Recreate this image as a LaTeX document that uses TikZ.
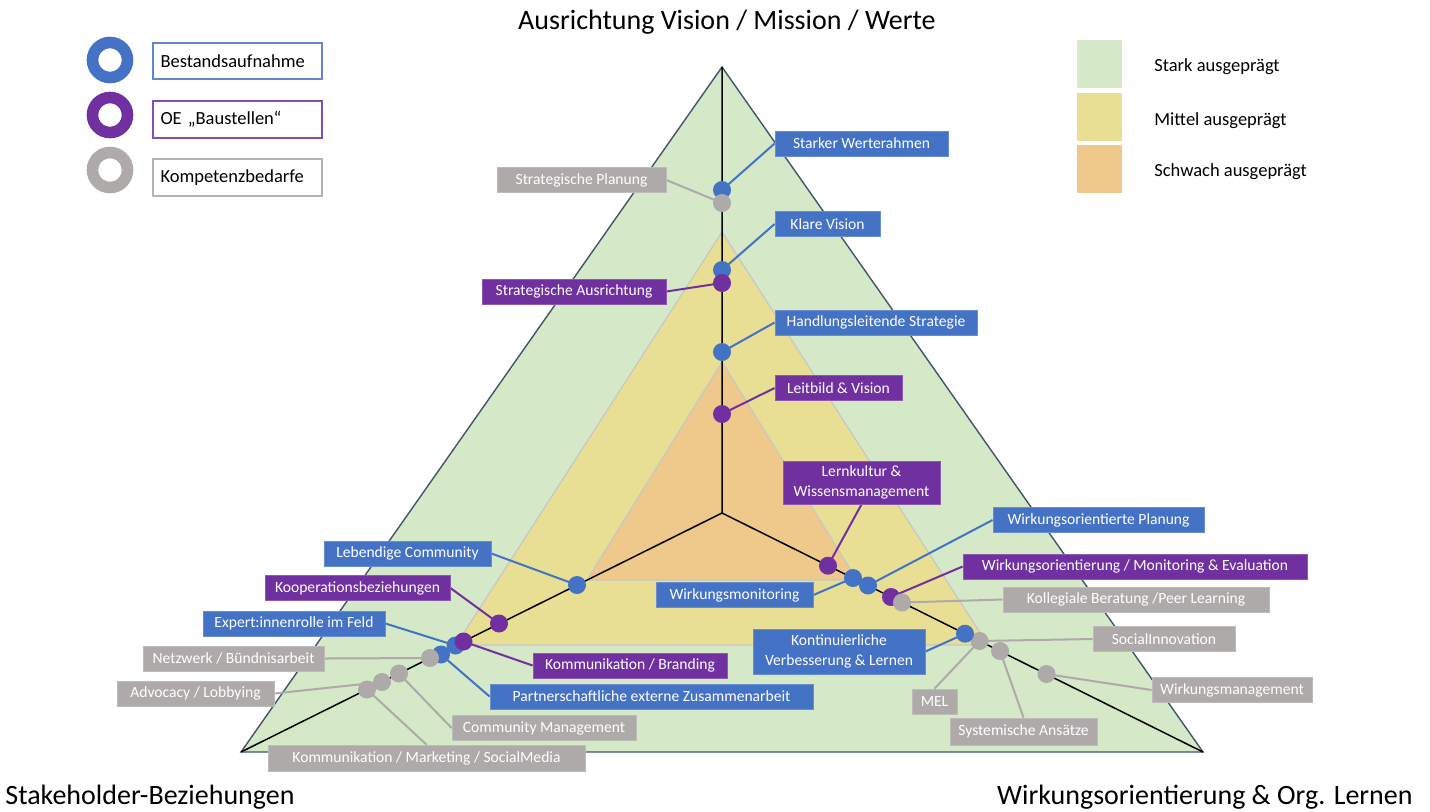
\documentclass[tikz,border=0pt]{standalone}
\usepackage{fontspec}
\setmainfont{Carlito}
\definecolor{cblue}{HTML}{4472C4}
\definecolor{cpurple}{HTML}{7030A0}
\definecolor{cgray}{HTML}{AEAAAA}
\definecolor{cgreen}{HTML}{D5E8C8}
\definecolor{cyellow}{HTML}{E8DF94}
\definecolor{corange}{HTML}{EFC88C}
\definecolor{cedge}{HTML}{44546A}
\pgfdeclarelayer{back}
\pgfdeclarelayer{mid}
\pgfsetlayers{back,mid,main}
\begin{document}
\begin{tikzpicture}[x=0.5pt,y=-0.5pt,
  lab/.style={font=\fontsize{7.8}{9.8}\selectfont, text=white, inner sep=0pt,
              minimum height=12.5pt, align=center, line width=0.4pt},
  bbox/.style={lab, fill=cblue, draw=cblue!80!white},
  pbox/.style={lab, fill=cpurple, draw=cpurple!80!white},
  gbox/.style={lab, fill=cgray, draw=cgray!80!white},
  dot/.style={circle, inner sep=0pt, minimum size=9pt},
  bdot/.style={dot, fill=cblue},
  pdot/.style={dot, fill=cpurple},
  gdot/.style={dot, fill=cgray},
  bline/.style={cblue, line width=1pt},
  pline/.style={cpurple, line width=1pt},
  gline/.style={cgray, line width=1pt},
  legbox/.style={fill=white, line width=0.8pt, minimum width=84.5pt, minimum height=18.25pt,
                 inner sep=3.5pt, text width=77pt, align=left, font=\fontsize{9.25}{11}\selectfont},
  legtxt/.style={anchor=west, inner sep=0pt, font=\fontsize{9.25}{11}\selectfont},
  ring/.style={line width=5.8pt},
  swatch/.style={inner sep=0pt, minimum width=22.5pt, minimum height=24pt},
  axistitle/.style={inner sep=0pt, font=\fontsize{14}{16}\selectfont}
]
\useasboundingbox (0,0) rectangle (1430,811);

% ---------- triangles and spokes ----------
\begin{pgfonlayer}{back}
  \coordinate (O) at (722,513);
  \coordinate (TA) at (722,67);
  \coordinate (TL) at (241,752);
  \coordinate (TR) at (1203,752);
  \fill[cgreen] (TA) -- (TL) -- (TR) -- cycle;
  \filldraw[fill=cyellow, draw=black!22, line width=0.6pt] (722,232) -- (456,645) -- (988,645) -- cycle;
  \filldraw[fill=corange, draw=black!22, line width=0.6pt] (722,362) -- (587,580) -- (857,580) -- cycle;
  \draw[cedge, line width=0.7pt, line join=miter] (TA) -- (TL) -- (TR) -- cycle;
  \draw[black, line width=0.75pt] (O) -- (TA) (O) -- (TL) (O) -- (TR);
\end{pgfonlayer}

% ---------- axis titles ----------
\node[axistitle] (tTop) at (727,22) {Ausrichtung Vision / Mission / Werte};
\node[axistitle, anchor=west] (tLeft) at (5,797) {Stakeholder-Beziehungen};
\node[axistitle, anchor=east] (tRight) at (1413,797) {Wirkungsorientierung \& Org. Lernen};

% ---------- legend: categories ----------
\draw[ring, cblue] (110,60) circle (8.75pt);
\draw[ring, cpurple] (110,115) circle (8.75pt);
\draw[ring, cgray] (110,170) circle (8.75pt);
\node[legbox, draw=cblue!85!white] (lgB) at (237.5,61) {Bestandsaufnahme};
\node[legbox, draw=cpurple!85!white] (lgP) at (237.5,119.5) {OE „Baustellen“};
\node[legbox, draw=cgray!90!white] (lgG) at (237.5,177.5) {Kompetenzbedarfe};

% ---------- legend: levels ----------
\node[swatch, fill=cgreen] (swG) at (1099,63.5) {};
\node[swatch, fill=cyellow] (swY) at (1099,117) {};
\node[swatch, fill=corange] (swO) at (1099,169) {};
\node[legtxt] (ltG) at (1154,67) {Stark ausgeprägt};
\node[legtxt] (ltY) at (1154,121) {Mittel ausgeprägt};
\node[legtxt] (ltO) at (1154,172) {Schwach ausgeprägt};

% ---------- label boxes ----------
% vertical axis
\node[bbox, minimum width=86.5pt] (l1) at (861.5,143.5) {Starker Werterahmen};
\node[bbox, minimum width=52.5pt] (l2) at (827.5,224) {Klare Vision};
\node[bbox, minimum width=101pt] (l3) at (876,322.5) {Handlungsleitende Strategie};
\node[pbox, minimum width=63.5pt] (l4) at (838.5,388) {Leitbild \& Vision};
\node[pbox, minimum width=92pt] (l5) at (574,291.5) {Strategische Ausrichtung};
\node[gbox, minimum width=84.5pt] (l6) at (581.5,180) {Strategische Planung};
% right axis
\node[pbox, minimum width=78.5pt, minimum height=21.5pt] (l7) at (861.5,482.5) {Lernkultur \&\\Wissensmanagement};
\node[bbox, minimum width=105.5pt] (l8) at (1098.5,520) {Wirkungsorientierte Planung};
\node[bbox, minimum width=78.5pt] (l9) at (734.5,595) {Wirkungsmonitoring};
\node[pbox, minimum width=172pt] (l10) at (1135,566.5) {Wirkungsorientierung / Monitoring \& Evaluation};
\node[gbox, minimum width=133pt] (l11) at (1136,599.5) {Kollegiale Beratung /Peer Learning};
\node[bbox, minimum width=86pt, minimum height=22.5pt] (l12) at (839,651.5) {Kontinuierliche\\Verbesserung \& Lernen};
\node[gbox, minimum width=71pt] (l13) at (1164,639) {SocialInnovation};
\node[gbox, minimum width=22.5pt] (l14) at (934.5,701.5) {MEL};
\node[gbox, minimum width=73.5pt, minimum height=13.5pt] (l15) at (1023.5,731.5) {Systemische Ansätze};
\node[gbox, minimum width=80pt] (l16) at (1232,690) {Wirkungsmanagement};
% left axis
\node[bbox, minimum width=83.5pt] (l17) at (407.5,553.5) {Lebendige Community};
\node[pbox, minimum width=92.5pt] (l18) at (357.5,588) {Kooperationsbeziehungen};
\node[bbox, minimum width=91pt] (l19) at (294,623.5) {Expert:innenrolle im Feld};
\node[pbox, minimum width=97pt] (l20) at (630,665.5) {Kommunikation / Branding};
\node[bbox, minimum width=161.5pt] (l21) at (651.5,696.5) {Partnerschaftliche externe Zusammenarbeit};
\node[gbox, minimum width=90.5pt] (l22) at (233.5,658.5) {Netzwerk / Bündnisarbeit};
\node[gbox, minimum width=78.5pt] (l23) at (195.5,693.5) {Advocacy / Lobbying};
\node[gbox, minimum width=92pt] (l24) at (544,728) {Community Management};
\node[gbox, minimum width=158.5pt, minimum height=13pt] (l25) at (426.5,758) {Kommunikation / Marketing / SocialMedia};

% ---------- dots (drawing order sets overlaps) ----------
\node[bdot] (d1) at (722,190) {};
\node[gdot] (d6) at (722,203) {};
\node[bdot] (d2) at (722,270) {};
\node[pdot] (d5) at (722,283) {};
\node[bdot] (d3) at (722,352) {};
\node[pdot] (d4) at (722,414) {};

\node[pdot] (d7) at (828,565.7) {};
\node[bdot] (d9) at (853,578) {};
\node[bdot] (d8) at (868,585.5) {};
\node[pdot] (d10) at (891,597) {};
\node[gdot] (d11) at (902,602.5) {};
\node[gdot] (d13) at (979.5,641) {};
\node[bdot] (d12) at (965,633.7) {};
\node[gdot] (d15) at (1000,651) {};
\node[gdot] (d16) at (1046.5,674) {};

\node[bdot] (d17) at (577,585) {};
\node[pdot] (d18) at (499,623.5) {};
\node[bdot] (d19) at (455.5,645.5) {};
\node[pdot] (d20) at (463.5,641.5) {};
\node[bdot] (d21) at (441,654.5) {};
\node[gdot] (d22) at (430,658) {};
\node[gdot] (d25) at (367,689.5) {};
\node[gdot] (d23) at (382,682) {};
\node[gdot] (d24) at (399,673.5) {};

% ---------- connectors ----------
\begin{pgfonlayer}{mid}
  \draw[bline] (l1.west) -- (d1.center);
  \draw[bline] (l2.west) -- (d2.center);
  \draw[bline] (l3.west) -- (d3.center);
  \draw[pline] (l4.west) -- (d4.center);
  \draw[pline] (l5.east) -- (d5.center);
  \draw[gline] (l6.east) -- (d6.center);
  \draw[pline] (l7.south) -- (d7.center);
  \draw[bline] (l8.west) -- (d8.center);
  \draw[bline] (l9.east) -- (d9.center);
  \draw[pline] (l10.west) -- (d10.center);
  \draw[gline] (l11.west) -- (d11.center);
  \draw[bline] (l12.east) -- (d12.center);
  \draw[gline] (l13.west) -- (d13.center);
  \draw[gline] (l14.north) -- (d13.center);
  \draw[gline] (l15.north) -- (d15.center);
  \draw[gline] (l16.west) -- (d16.center);
  \draw[bline] (l17.east) -- (d17.center);
  \draw[pline] (l18.east) -- (d18.center);
  \draw[bline] (l19.east) -- (d19.center);
  \draw[pline] (l20.west) -- (d20.center);
  \draw[bline] (l21.west) -- (d21.center);
  \draw[gline] (l22.east) -- (d22.center);
  \draw[gline] (l23.east) -- (d23.center);
  \draw[gline] (l24.west) -- (d24.center);
  \draw[gline] (l25.north) -- (d25.center);
\end{pgfonlayer}
\end{tikzpicture}
\end{document}
